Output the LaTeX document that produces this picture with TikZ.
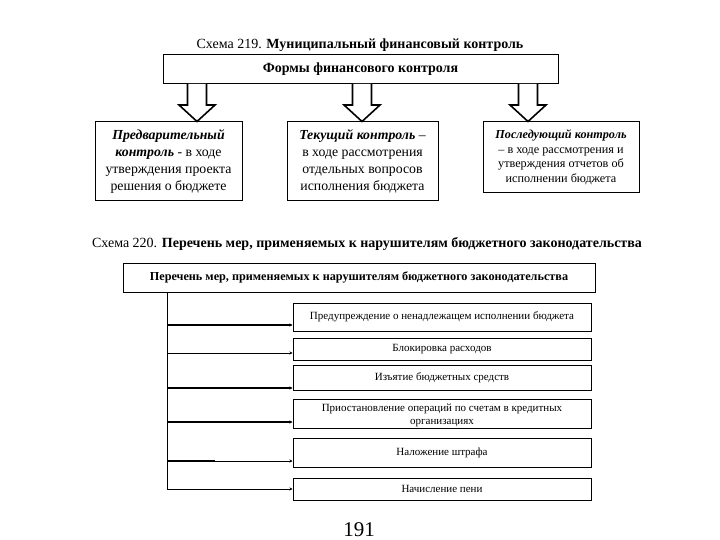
\documentclass[tikz,border=0pt]{standalone}
\usepackage{fontspec}
\setmainfont{Liberation Serif}
\usetikzlibrary{arrows.meta,calc}
\begin{document}
\begin{tikzpicture}[x=1pt,y=-1pt,
  box/.style={draw,line width=1pt,inner sep=0pt,align=center},
  blockarrow/.style={draw,line width=1.6pt,fill=white,line join=miter},
  conn/.style={line width=0.8pt,-{Stealth[length=3pt,width=3pt]}},
  thickconn/.style={line width=2pt,-{Stealth[length=3pt,width=3pt]}},
  small/.style={font=\fontsize{11}{12}\selectfont}
]
\useasboundingbox[fill=white] (0,0) rectangle (720,540);

\node (t219) at (360,45) {\fontsize{14}{16}\selectfont Схема 219. \textbf{Муниципальный финансовый контроль}};
\node[box,minimum width=395pt,minimum height=29pt] (forms) at (360.5,69.5) {\fontsize{14}{16}\selectfont\textbf{Формы финансового контроля}};

\node[box,minimum width=147pt,minimum height=79pt,font=\fontsize{13.8}{17}\selectfont] (b1) at (168.5,161.5)
 {\textbf{\textit{Предварительный}}\\\textbf{\textit{контроль}} - в ходе\\утверждения проекта\\решения о бюджете};
\node[box,minimum width=151pt,minimum height=79pt,font=\fontsize{13.8}{17}\selectfont] (b2) at (362.5,161.5)
 {\textbf{\textit{Текущий контроль}} –\\в ходе рассмотрения\\отдельных вопросов\\исполнения бюджета};
\node[box,minimum width=156pt,minimum height=71pt,font=\fontsize{12.2}{14.5}\selectfont] (b3) at (561,157.5)
 {\textbf{\textit{Последующий контроль}}\\– в ходе рассмотрения и\\утверждения отчетов об\\исполнении бюджета};

\foreach \b/\x in {b1/197,b2/362,b3/528}{
  \draw[blockarrow] (\x-9.5,84) -- (\x-9.5,105) -- (\x-18,105) -- (\b.north -| \x,0) -- (\x+18,105) -- (\x+9.5,105) -- (\x+9.5,84);
}

\node (t220) at (367,244) {\fontsize{14}{16}\selectfont Схема 220. \textbf{Перечень мер, применяемых к нарушителям бюджетного законодательства}};
\node[box,minimum width=472pt,minimum height=29pt] (h2) at (359,277.5) {\fontsize{12.2}{14}\selectfont\textbf{Перечень мер, применяемых к нарушителям бюджетного законодательства}};

\node[box,small,minimum width=298pt,minimum height=28pt] (a) at (442,317) {Предупреждение о ненадлежащем исполнении бюджета};
\node[box,small,minimum width=298pt,minimum height=22pt] (b) at (442,349) {Блокировка расходов};
\node[box,small,minimum width=298pt,minimum height=25pt] (c) at (442,377.5) {Изъятие бюджетных средств};
\node[box,small,minimum width=298pt,minimum height=29pt] (d) at (442,413.5) {\raisebox{-5pt}[0pt][0pt]{\parbox{280pt}{\centering\fontsize{11}{13}\selectfont Приостановление операций по счетам в кредитных\\организациях}}};
\node[box,small,minimum width=298pt,minimum height=29pt] (e) at (442,452.5) {Наложение штрафа};
\node[box,small,minimum width=298pt,minimum height=22pt] (f) at (442,489) {Начисление пени};

\coordinate (trunk) at (167,292);
\coordinate (trunkend) at (167,489);
\draw[line width=0.8pt] (trunk) -- (trunkend);
\draw[thickconn] (trunk |- 0,325) -- (a.west |- 0,325);
\draw[conn] (trunk |- 0,353) -- (b.west |- 0,353);
\draw[thickconn] (trunk |- 0,388) -- (c.west |- 0,388);
\draw[thickconn] (trunk |- 0,422) -- (d.west |- 0,422);
\coordinate (ebreak) at (215,461);
\draw[line width=2pt] (trunk |- ebreak) -- (ebreak);
\draw[conn] (ebreak) -- (e.west |- ebreak);
\draw[conn] (trunkend) -- (f.west |- trunkend);

\node (pg) at (359,530) {\fontsize{21}{24}\selectfont 191};
\end{tikzpicture}
\end{document}
